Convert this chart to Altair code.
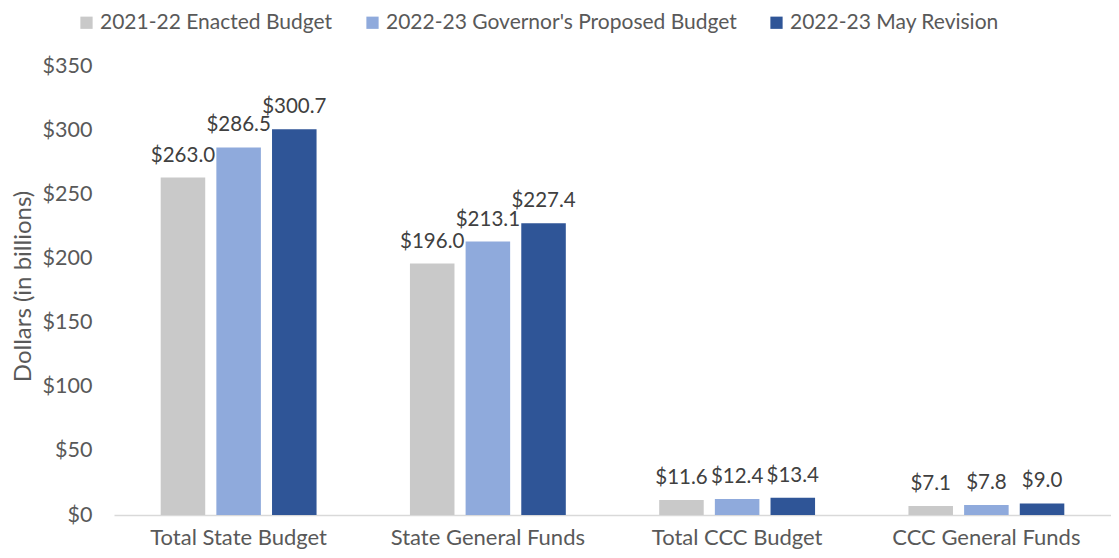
import altair as alt
import pandas as pd

categories = ["Total State Budget", "State General Funds", "Total CCC Budget", "CCC General Funds"]
series = ["2021-22 Enacted Budget", "2022-23 Governor's Proposed Budget", "2022-23 May Revision"]
values = {
    "2021-22 Enacted Budget": [263.0, 196.0, 11.6, 7.1],
    "2022-23 Governor's Proposed Budget": [286.5, 213.1, 12.4, 7.8],
    "2022-23 May Revision": [300.7, 227.4, 13.4, 9.0],
}
colors = ["#C9C9C9", "#8FAADC", "#2F5597"]
y_ticks = [0, 50, 100, 150, 200, 250, 300, 350]

rows = []
for s in series:
    for c, v in zip(categories, values[s]):
        rows.append({"category": c, "series": s, "value": v, "label": f"${v:.1f}"})
df = pd.DataFrame(rows)

FONT = "Lato"

x = alt.X("category:N", sort=categories, title=None,
          scale=alt.Scale(paddingInner=0.33, paddingOuter=0.165),
          axis=alt.Axis(labelAngle=0, labelFontSize=22, labelColor="#595959", labelFont=FONT,
                        ticks=False, domainColor="#D9D9D9", domainWidth=1.5, labelPadding=12,
                        labelLimit=0))
xo = alt.XOffset("series:N", sort=series, scale=alt.Scale(paddingInner=0.2, paddingOuter=0.1))
y = alt.Y("value:Q", title="Dollars (in billions)",
          scale=alt.Scale(domain=[0, 350], nice=False),
          axis=alt.Axis(values=y_ticks, format="$,.0f", grid=False, domain=False, ticks=False,
                        labelFontSize=21.5, labelColor="#595959", labelFont=FONT, labelPadding=22,
                        titleFontSize=24, titleColor="#595959", titleFont=FONT, titleFontWeight="normal",
                        titleX=-91, titleY=220, titleAngle=270, titleAlign="center", titleBaseline="middle"))

bars = alt.Chart(df).mark_bar().encode(
    x=x, xOffset=xo, y=y,
    color=alt.Color("series:N", sort=series, scale=alt.Scale(domain=series, range=colors),
                    legend=alt.Legend(title=None, orient="none", direction="horizontal",
                                      legendX=-38, legendY=-54, symbolType="square", symbolSize=150,
                                      symbolStrokeWidth=0, labelFontSize=21, labelColor="#595959",
                                      labelFont=FONT, columnPadding=29, labelOffset=3,
                                      labelLimit=0, symbolOpacity=1)),
)

labels = alt.Chart(df).mark_text(fontSize=20.5, color="#404040", font=FONT, baseline="alphabetic", dy=-16).encode(
    x=alt.X("category:N", sort=categories), xOffset=alt.XOffset("series:N", sort=series), y="value:Q",
    text="label:N",
)

chart = (bars + labels).properties(
    width=997, height=449,
    autosize=alt.AutoSizeParams(type="none"),
    padding={"left": 106, "top": 58, "right": 0, "bottom": 35},
).configure_view(stroke=None)

chart.save("out.html", embed_options={"renderer": "svg", "actions": False})
